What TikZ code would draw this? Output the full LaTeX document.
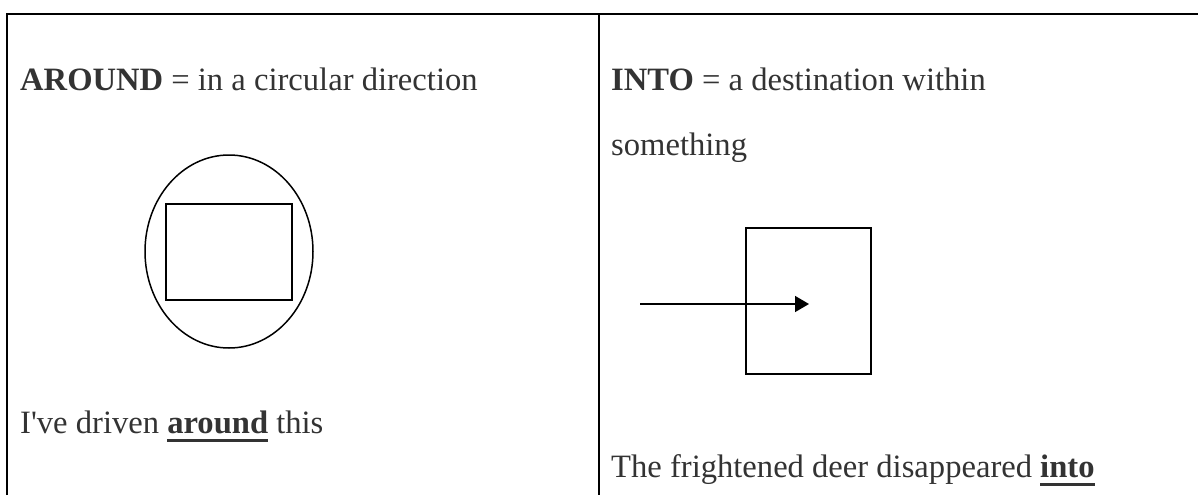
\documentclass[tikz,border=0pt]{standalone}
\usepackage{fontspec}
\usetikzlibrary{arrows.meta}
\setmainfont{Liberation Serif}
\definecolor{inkgray}{RGB}{51,51,51}
% thick underline for the key word
\newcommand{\keyword}[1]{\setbox0\hbox{\textbf{#1}}\rlap{\rule[-9pt]{\wd0}{3.5pt}}\box0\relax}
\tikzset{
  label text/.style={anchor=base west, inner sep=0pt, text=inkgray, font=\fontsize{32.6}{39}\selectfont},
  cell line/.style={line width=2.6pt},
  figure line/.style={line width=1.5pt}
}
\begin{document}
\begin{tikzpicture}[x=1pt, y=-1pt]
  \useasboundingbox (0,0) rectangle (1198,495);
  % Table rules
  \draw[cell line] (7,495) -- (7,14) -- (1198,14);
  \draw[cell line] (599,14) -- (599,495);
  % Left cell: around
  \node[label text] (aroundDef) at (20,90) {\textbf{AROUND} = in a circular direction};
  \draw[figure line] (229,251.5) ellipse (84 and 96.5);
  \draw[figure line] (166,204) rectangle (292,300);
  \node[label text] (aroundEx) at (20,433) {I\textquotesingle ve driven \keyword{around} this};
  % Right cell: into
  \node[label text] (intoDef) at (611,90) {\textbf{INTO} = a destination within};
  \node[label text] (intoDef2) at (611,155) {something};
  \draw[figure line] (746,228) rectangle (871,374);
  \coordinate (arrowStart) at (640,304);
  \coordinate (arrowEnd) at (809,304);
  \draw[figure line, -{Triangle[length=14pt, width=16pt]}] (arrowStart) -- (arrowEnd);
  \node[label text] (intoEx) at (611,477) {The frightened deer disappeared \keyword{into}};
\end{tikzpicture}
\end{document}
